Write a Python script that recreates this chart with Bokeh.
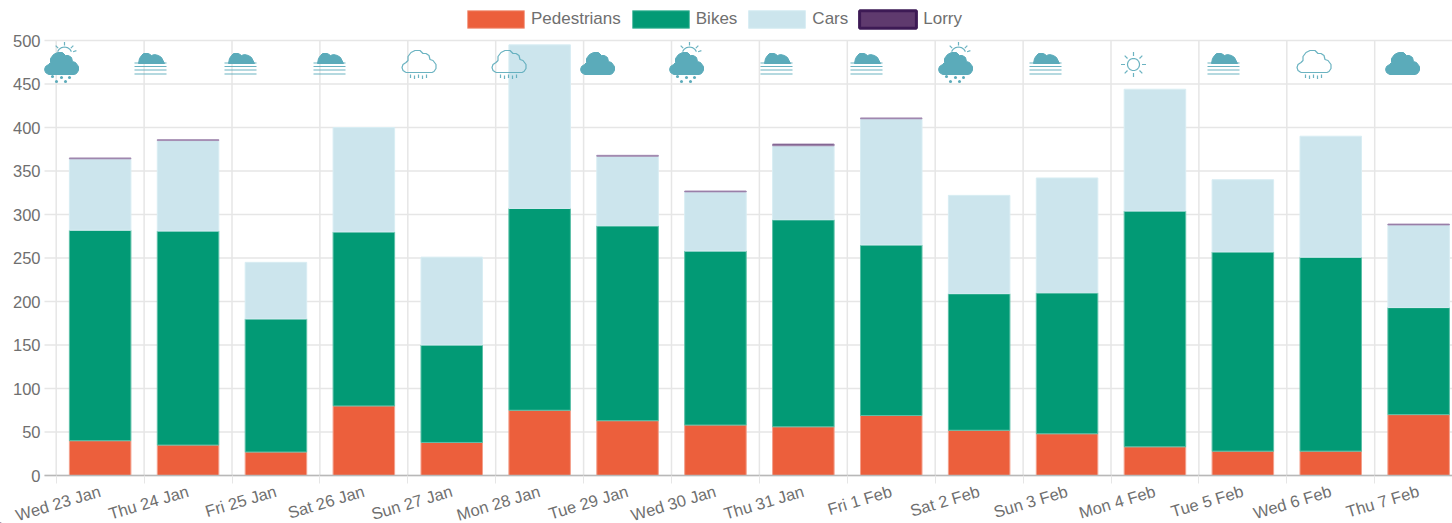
from math import cos, sin, pi
from bokeh.plotting import figure
from bokeh.models import ColumnDataSource, FixedTicker, Legend, LegendItem, Range1d
from bokeh.embed import file_html
from bokeh.resources import INLINE

days = ["Wed 23 Jan", "Thu 24 Jan", "Fri 25 Jan", "Sat 26 Jan", "Sun 27 Jan", "Mon 28 Jan", "Tue 29 Jan", "Wed 30 Jan",
        "Thu 31 Jan", "Fri 1 Feb", "Sat 2 Feb", "Sun 3 Feb", "Mon 4 Feb", "Tue 5 Feb", "Wed 6 Feb", "Thu 7 Feb"]
pedestrians = [40, 35, 27, 80, 38, 75, 63, 58, 56, 69, 52, 48, 33, 28, 28, 70]
bikes = [242, 246, 153, 200, 112, 232, 224, 200, 238, 196, 157, 162, 271, 229, 223, 123]
cars = [82, 104, 65, 120, 101, 188, 80, 68, 85, 145, 113, 132, 140, 83, 139, 95]
lorry = [1, 1, 0, 0, 0, 0, 1, 1, 2, 1, 0, 0, 0, 0, 0, 1]
weather = ["sunrain", "fog", "fog", "fog", "rain", "rain", "cloud", "sunrain",
           "fog", "fog", "sunrain", "fog", "sun", "fog", "rain", "cloud"]
icon_px = [61, 150, 240, 329, 418, 508, 597, 686, 776, 866, 955, 1045, 1133, 1223, 1313, 1402]

GRID = "#e6e6e6"
TEXT = "#6f6f6f"
ICON = "#5babba"
FONT = "Liberation Sans"

FIRST_LINE, STEP, ZERO, UNIT = 55.7, 87.9, 475.0, 0.87
fx = lambda px: (px - FIRST_LINE) / STEP - 0.5
fy = lambda py: (ZERO - py) / UNIT

# The frame fills the whole page: axes, legend and slanted labels all sit inside it
p = figure(width=1452, height=523, output_backend="svg", toolbar_location=None,
           x_range=Range1d(fx(0), fx(1452)), y_range=Range1d(fy(523), fy(0)),
           min_border_left=0, min_border_top=0, min_border_right=0, min_border_bottom=0)
p.outline_line_color = None
p.background_fill_color = "white"

n = len(days)
idx = list(range(n))
boundaries = [i - 0.5 for i in range(n + 1)]
yticks = list(range(0, 501, 50))
plot_left, plot_right = fx(44), fx(1452)

p.xgrid.visible = False
p.ygrid.visible = False
p.segment(x0=boundaries, y0=[0] * (n + 1), x1=boundaries, y1=[500] * (n + 1), line_color=GRID, line_width=1.5,
          level="underlay")
p.segment(x0=[plot_left] * len(yticks), y0=yticks, x1=[plot_right] * len(yticks), y1=yticks, line_color=GRID,
          line_width=1.5, level="underlay")

src = ColumnDataSource(dict(x=idx, Pedestrians=pedestrians, Bikes=bikes, Cars=cars))
names = ["Pedestrians", "Bikes", "Cars"]
fills = ["#ec5f3c", "#029a75", "#cce5ed"]
borders = ["#f3a08c", "#5cc0a8", "#d8edf3"]
rs = p.vbar_stack(names, x="x", width=0.70, source=src, color=fills, line_color=borders, line_width=1)

lorry_x = [i for i in idx if lorry[i] > 0]
lorry_bottom = [pedestrians[i] + bikes[i] + cars[i] for i in lorry_x]
lorry_top = [b + lorry[i] for b, i in zip(lorry_bottom, lorry_x)]
p.vbar(x=lorry_x, bottom=lorry_bottom, top=lorry_top, width=0.70,
       fill_color="#5f3a6e", line_color="#a78fb5", line_width=1)

lorry_key = p.vbar(x=[-50], bottom=[-900], top=[-899], width=0.1, fill_color="#5f3a6e", line_color="#3d1a55",
                   line_width=3)
items = [LegendItem(label=nm, renderers=[r]) for nm, r in zip(names, rs)]
items.append(LegendItem(label="Lorry", renderers=[lorry_key]))
leg = Legend(items=items, orientation="horizontal", location=(460, 493), glyph_width=71, glyph_height=22,
             label_standoff=0, spacing=4, padding=0, margin=0, border_line_color=None,
             background_fill_alpha=0, label_text_font=FONT, label_text_font_size="17px",
             label_text_color=TEXT, label_height=22)
p.add_layout(leg, "center")

xa = p.xaxis[0]
xa.fixed_location = 0
xa.bounds = (plot_left, plot_right)
xa.ticker = FixedTicker(ticks=idx, minor_ticks=boundaries)
xa.major_label_overrides = {i: d for i, d in enumerate(days)}
xa.major_label_orientation = 0.29
xa.major_label_text_font = FONT
xa.major_label_text_font_size = "16.5px"
xa.major_label_text_color = TEXT
xa.major_label_standoff = 7
xa.major_tick_line_color = None
xa.major_tick_out = 0
xa.major_tick_in = 0
xa.minor_tick_line_color = GRID
xa.minor_tick_in = 0
xa.minor_tick_out = 8
xa.axis_line_color = "#b8b8b8"
xa.axis_line_width = 1.5

ya = p.yaxis[0]
ya.fixed_location = plot_left
ya.bounds = (0, 500)
ya.ticker = FixedTicker(ticks=yticks)
ya.minor_tick_line_color = None
ya.major_tick_line_color = None
ya.major_tick_out = 0
ya.major_tick_in = 0
ya.axis_line_color = None
ya.major_label_text_font = FONT
ya.major_label_text_font_size = "16.5px"
ya.major_label_text_color = TEXT
ya.major_label_standoff = 4

# Weather pictograms, built from pixel offsets around each icon's centre
CLOUD = [(-13, 11), (-16, 9), (-17, 6), (-16, 3), (-13, 1), (-11, -1), (-11, -5), (-8, -9), (-4, -11), (1, -11),
         (4, -8), (7, -8), (10, -6), (11, -2), (14, -1), (17, 3), (17, 7), (15, 10), (13, 11)]
DOME = [(-12, 10), (-11, 5), (-9, 2), (-7, 0), (-2, 0), (1, 2), (4, 1), (8, 2), (11, 4), (14, 10)]
px_lines, px_fills = [], []
dots_x, dots_y = [], []

def add_line(pts, cx, cy):
    px_lines.append(([cx + a for a, b in pts], [cy + b for a, b in pts]))

def add_fill(pts, cx, cy):
    px_fills.append(([cx + a for a, b in pts], [cy + b for a, b in pts]))

def add_rays(cx, cy, r0, r1, angles):
    for a in angles:
        add_line([(r0 * cos(a), r0 * sin(a)), (r1 * cos(a), r1 * sin(a))], cx, cy)

for cx, kind in zip(icon_px, weather):
    if kind == "rain":
        add_line(CLOUD + CLOUD[:1], cx + 0.5, 61)
        for dx, y0 in [(-8, 74), (-4, 75), (0, 74), (4, 75), (8, 74)]:
            add_line([(dx, 0), (dx, 3.5)], cx, y0)
    elif kind == "cloud":
        add_fill(CLOUD, cx, 63)
    elif kind == "sunrain":
        add_fill(CLOUD, cx, 63)
        arc = [(7.5 * cos(t * pi / 8), -7.5 * sin(t * pi / 8)) for t in range(1, 8)]
        add_line(arc, cx + 3, 54)
        add_rays(cx + 3, 54, 9, 12.5, [-pi / 2, -pi / 4, -3 * pi / 4, -pi / 10])
        for dx, dy in [(-9, 76), (-5, 81), (0, 77), (4, 81), (8, 77)]:
            dots_x.append(fx(cx + dx))
            dots_y.append(fy(dy))
    elif kind == "fog":
        add_fill(DOME, cx, 53)
        for yy in [62.5, 66, 69.5, 73.5]:
            add_line([(-16, 0), (16, 0)], cx, yy)
    elif kind == "sun":
        add_line([(6 * cos(t * pi / 12), 6 * sin(t * pi / 12)) for t in range(25)], cx, 64)
        add_rays(cx, 64, 8.5, 12.5, [t * pi / 4 for t in range(8)])

p.multi_line([[fx(v) for v in xs] for xs, ys in px_lines], [[fy(v) for v in ys] for xs, ys in px_lines],
             line_color=ICON, line_width=1.2, line_alpha=0.9)
p.patches([[fx(v) for v in xs] for xs, ys in px_fills], [[fy(v) for v in ys] for xs, ys in px_fills],
          fill_color=ICON, line_color=ICON, line_width=1, line_join="round")
p.scatter(dots_x, dots_y, size=3, color=ICON, line_color=None)

open("out.html", "w").write(file_html(p, INLINE))
